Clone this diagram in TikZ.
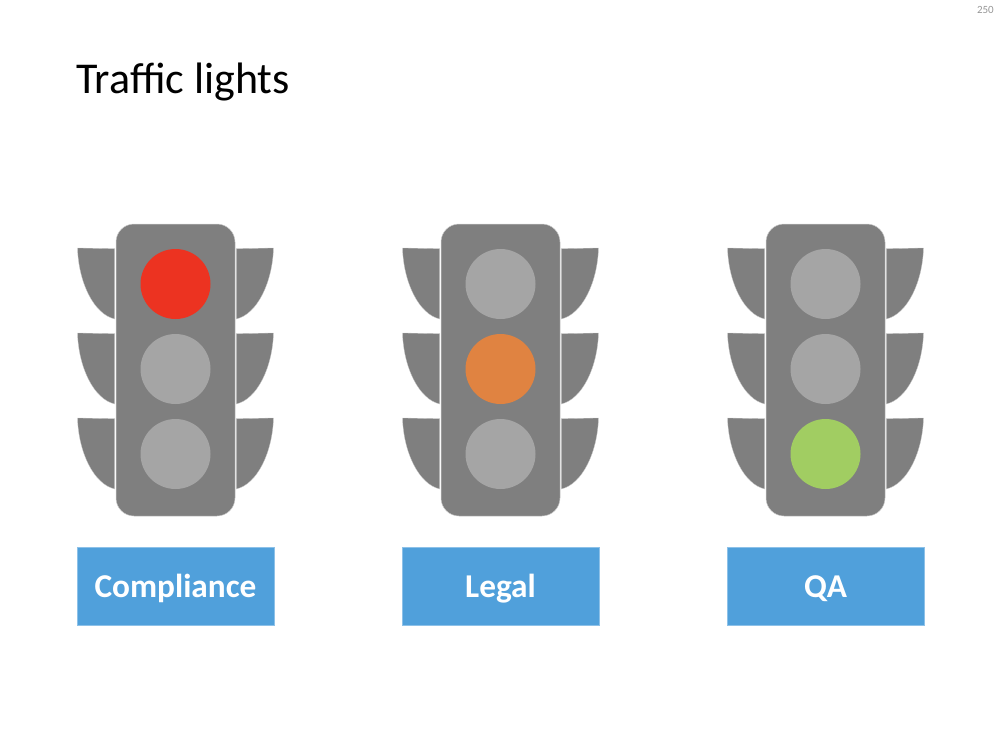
\documentclass[tikz,border=0pt]{standalone}
\usepackage{fontspec}
\setmainfont{Carlito}
\definecolor{housing}{RGB}{127,127,127}
\definecolor{lampoff}{RGB}{165,165,165}
\definecolor{lampred}{RGB}{236,51,33}
\definecolor{lampamber}{RGB}{224,131,65}
\definecolor{lampgreen}{RGB}{161,205,98}
\definecolor{labelblue}{RGB}{80,160,219}
\definecolor{pagenum}{RGB}{150,150,150}
\tikzset{
    housebox/.style={draw=white!60!housing,line width=0.5pt,fill=housing,rounded corners=18pt,minimum width=119pt,minimum height=292pt,inner sep=0pt},
    lamp/.style={circle,fill=#1,minimum size=70pt,inner sep=0pt},
    visor/.style={fill=housing,draw=white!60!housing,line width=0.3pt},
    namebox/.style={draw=white!35!labelblue,line width=0.3pt,fill=labelblue,text=white,minimum width=196.5pt,minimum height=78.6pt,inner sep=0pt,text height=26pt,text depth=4pt,font=\fontsize{33.3}{38}\selectfont\bfseries}
}
\begin{document}
\begin{tikzpicture}[x=1pt,y=-1pt]
    \useasboundingbox (0,0) rectangle (1000,750);

    \node[anchor=base west,inner sep=0pt,font=\fontsize{44}{50}\selectfont] (title) at (76,93) {Traffic lights};
    \node[anchor=base east,inner sep=0pt,font=\fontsize{11}{12}\selectfont,text=pagenum] (page) at (994,13) {250};

    \foreach \name/\cx/\one/\two/\three/\word in {comp/175.5/lampred/lampoff/lampoff/Compliance,
                                                   legal/500.5/lampoff/lampamber/lampoff/Legal,
                                                   qa/825.5/lampoff/lampoff/lampgreen/QA}{
        % visors behind the lamps
        \foreach \dy in {0,85,170}{
            \draw[visor] (\cx-98,248+\dy) -- (\cx-60.8,248.6+\dy) -- (\cx-60.8,319+\dy)
                .. controls (\cx-82,314+\dy) and (\cx-97,282+\dy) .. cycle;
            \draw[visor] (\cx+98,248+\dy) -- (\cx+60.8,248.6+\dy) -- (\cx+60.8,319+\dy)
                .. controls (\cx+82,314+\dy) and (\cx+97,282+\dy) .. cycle;
        }
        \node[housebox] (\name) at (\cx,370) {};
        \node[lamp=\one] (\name-top) at (\cx,284) {};
        \node[lamp=\two] (\name-mid) at (\cx,369) {};
        \node[lamp=\three] (\name-low) at (\cx,454) {};
        \node[namebox] (\name-label) at (\cx,586) {\word};
    }
\end{tikzpicture}
\end{document}
